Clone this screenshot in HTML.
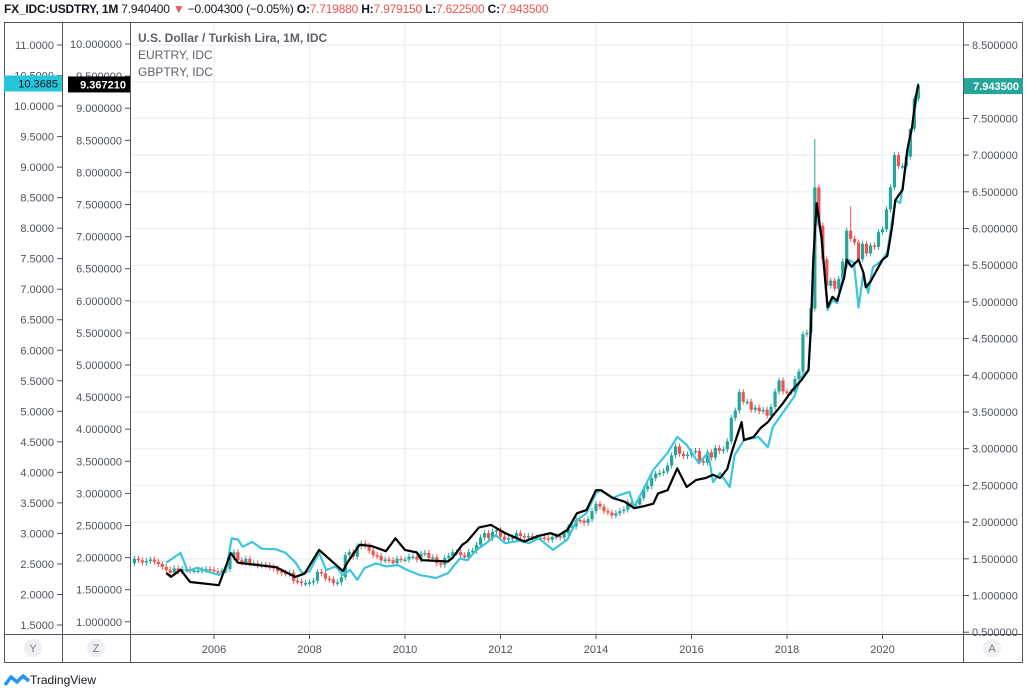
<!DOCTYPE html>
<html><head><meta charset="utf-8">
<style>
html,body{margin:0;padding:0;background:#fff;width:1027px;height:689px;overflow:hidden;font-family:"Liberation Sans",sans-serif;}
#hdr{position:absolute;left:4px;top:2px;font-size:12px;color:#131722;white-space:nowrap;letter-spacing:-0.2px}
#hdr .r{color:#ef5350}
svg{position:absolute;left:0;top:0}
</style></head><body>
<div id="hdr"><b>FX_IDC:USDTRY, 1M</b> 7.940400 <span class="r">▼</span> −0.004300 (−0.05%) <b>O:</b><span class="r">7.719880</span> <b>H:</b><span class="r">7.979150</span> <b>L:</b><span class="r">7.622500</span> <b>C:</b><span class="r">7.943500</span></div>
<svg id="c" width="1027" height="689"></svg>
<script>
// USDTRY monthly closes starting 2004-05
const usdStart = 2004 + 4/12;
const usdCloses = [
1.50,1.48,1.45,1.47,1.49,1.46,1.43,1.39,
1.35,1.31,1.37,1.33,1.36,1.36,1.34,1.34,1.34,1.35,1.36,1.35,
1.33,1.32,1.34,1.36,1.52,1.59,1.48,1.45,1.50,1.44,1.44,1.41,
1.42,1.41,1.39,1.37,1.33,1.31,1.30,1.31,1.20,1.19,1.17,1.17,
1.18,1.20,1.32,1.30,1.23,1.22,1.17,1.18,1.25,1.55,1.59,1.53,
1.67,1.71,1.68,1.61,1.55,1.54,1.48,1.49,1.48,1.44,1.50,1.49,
1.49,1.53,1.53,1.49,1.57,1.58,1.51,1.52,1.44,1.42,1.51,1.54,
1.59,1.59,1.55,1.52,1.59,1.61,1.69,1.79,1.85,1.78,1.87,1.89,
1.80,1.76,1.78,1.79,1.85,1.81,1.79,1.81,1.79,1.79,1.79,1.78,
1.76,1.80,1.81,1.79,1.85,1.93,1.94,2.03,2.02,1.99,2.04,2.15,
2.25,2.21,2.15,2.13,2.09,2.12,2.15,2.17,2.27,2.24,2.24,2.33,
2.45,2.49,2.60,2.66,2.67,2.69,2.77,2.91,3.03,2.93,2.90,2.92,
2.96,2.97,2.83,2.81,2.95,2.88,3.01,2.97,2.99,3.10,3.42,3.52,
3.77,3.64,3.64,3.53,3.56,3.51,3.53,3.45,3.57,3.78,3.93,3.78,
3.77,3.77,3.95,4.05,4.56,4.58,4.91,6.56,6.04,5.58,5.22,5.29,
5.18,5.31,5.55,5.97,5.86,5.81,5.58,5.79,5.66,5.77,5.75,5.95,
5.99,6.26,6.56,7.00,6.85,6.85,6.98,7.36,7.77,7.94];
const usdFirstOpen = 1.44;
const spikeMonths = [2018+7/12, 2019+4/12, 2020+7/12];
const spikeHighs = [7.22, 6.30, 7.28];

const eurDates = [2005.0,2005.1,2005.3,2005.5,2006.1,2006.35,2006.5,2007.3,2007.7,2007.9,2008.2,2008.7,2008.8,2009.05,2009.3,2009.6,2009.8,2010.0,2010.25,2010.35,2010.9,2011.0,2011.2,2011.3,2011.55,2011.8,2012.1,2012.5,2012.8,2013.05,2013.2,2013.4,2013.6,2013.8,2014.0,2014.1,2014.35,2014.6,2014.8,2015.0,2015.2,2015.3,2015.5,2015.7,2015.9,2016.1,2016.3,2016.45,2016.6,2016.75,2016.85,2017.05,2017.1,2017.3,2017.45,2017.6,2017.7,2017.9,2018.1,2018.3,2018.45,2018.5,2018.55,2018.62,2018.72,2018.85,2018.95,2019.05,2019.2,2019.25,2019.35,2019.5,2019.6,2019.65,2019.75,2020.0,2020.1,2020.2,2020.27,2020.42,2020.52,2020.62,2020.7,2020.75];
const eurValues = [1.76,1.70,1.81,1.62,1.57,2.07,1.92,1.85,1.70,1.75,2.12,1.79,1.93,2.20,2.18,2.10,2.30,2.12,2.08,1.96,1.94,2.00,2.20,2.25,2.47,2.51,2.38,2.25,2.34,2.38,2.34,2.43,2.69,2.74,3.05,3.05,2.93,2.87,2.77,2.80,2.84,3.00,3.05,3.39,3.10,3.21,3.24,3.29,3.24,3.38,3.66,4.11,3.83,3.88,4.02,4.11,4.21,4.39,4.60,4.76,4.92,5.59,6.64,7.52,7.00,5.90,6.06,6.00,6.37,6.64,6.53,6.64,6.44,6.21,6.30,6.64,6.70,7.15,7.57,7.73,8.35,8.71,9.18,9.37];

const gbpDates = [2005.0,2005.3,2005.45,2005.65,2005.85,2006.1,2006.25,2006.37,2006.5,2006.6,2006.8,2007.0,2007.3,2007.5,2007.7,2007.85,2008.0,2008.2,2008.35,2008.55,2008.7,2008.85,2009.0,2009.15,2009.4,2009.6,2009.85,2010.05,2010.3,2010.65,2010.9,2011.15,2011.3,2011.5,2011.7,2011.9,2012.1,2012.4,2012.6,2012.8,2013.1,2013.4,2013.6,2013.8,2014.0,2014.1,2014.35,2014.5,2014.7,2014.8,2014.95,2015.2,2015.5,2015.7,2015.9,2016.15,2016.35,2016.45,2016.6,2016.8,2016.9,2017.1,2017.4,2017.6,2017.7,2017.95,2018.15,2018.3,2018.45,2018.5,2018.55,2018.62,2018.72,2018.85,2018.95,2019.05,2019.2,2019.3,2019.4,2019.5,2019.6,2019.7,2019.8,2020.0,2020.1,2020.2,2020.27,2020.37,2020.47,2020.62,2020.7,2020.75];
const gbpValues = [2.52,2.68,2.38,2.44,2.38,2.32,2.38,2.92,2.90,2.78,2.86,2.75,2.74,2.68,2.53,2.35,2.38,2.68,2.40,2.46,2.32,2.40,2.24,2.43,2.51,2.46,2.48,2.40,2.32,2.27,2.35,2.59,2.56,2.73,2.84,2.97,2.84,2.88,2.84,2.92,2.73,2.90,3.22,3.33,3.66,3.71,3.58,3.63,3.68,3.43,3.66,4.04,4.32,4.58,4.45,4.15,4.32,3.84,3.99,3.76,4.28,4.53,4.58,4.41,4.74,5.02,5.24,5.56,5.68,6.38,7.48,8.30,7.85,6.66,6.82,6.77,7.27,7.48,7.43,6.70,7.27,6.94,7.36,7.48,7.61,8.13,8.46,8.41,8.95,9.66,10.05,10.37];

const rightTicks = [8.5,8.0,7.5,7.0,6.5,6.0,5.5,5.0,4.5,4.0,3.5,3.0,2.5,2.0,1.5,1.0,0.5];
const zTicks = [10,9.5,9,8.5,8,7.5,7,6.5,6,5.5,5,4.5,4,3.5,3,2.5,2,1.5,1];
const yTicks = [11,10.5,10,9.5,9,8.5,8,7.5,7,6.5,6,5.5,5,4.5,4,3.5,3,2.5,2,1.5];
const yearTicks = [2006,2008,2010,2012,2014,2016,2018,2020];

const PL=130, PR=963, PT=22, PB=634;
const xT = t => 214 + (t-2006)*47.75;
const yR = v => 45 + (8.5-v)*73.4;
const yZ = v => 44 + (10-v)*64.2;
const yY = v => 45 + (11-v)*61.05;

const svg = document.getElementById('c');
const NS='http://www.w3.org/2000/svg';
function mk(tag, attrs, parent){const e=document.createElementNS(NS,tag);for(const k in attrs)e.setAttribute(k,attrs[k]);(parent||svg).appendChild(e);return e;}
function txt(x,y,s,attrs){const e=mk('text',Object.assign({x:x,y:y,'font-size':11,fill:'#4c525e','font-family':'Liberation Sans, sans-serif'},attrs||{}));e.textContent=s;return e;}

const grid = mk('g',{});


rightTicks.forEach(v=>{mk('line',{x1:PL,x2:PR,y1:yR(v),y2:yR(v),stroke:'#e9eff4','stroke-width':1.2},grid);});
yearTicks.forEach(yr=>{mk('line',{x1:xT(yr),x2:xT(yr),y1:PT,y2:PB,stroke:'#e9eff4','stroke-width':1.2},grid);});

const cg = mk('g',{});


let prev = usdFirstOpen;
usdCloses.forEach((c,i)=>{
  const t = usdStart + i/12;
  const o = prev; prev = c;
  const up = c>=o; const col = up?'#26a69a':'#ef5350';
  let hi = Math.max(o,c), lo = Math.min(o,c);
  const si = spikeMonths.findIndex(m=>Math.abs(m-t)<0.02);
  const x = xT(t);
  const yTop = si>=0 ? yR(spikeHighs[si]) : yR(hi)-3;
  const w = mk('line',{x1:x,x2:x,y1:yTop,y2:yR(lo)+3,stroke:col,'stroke-width':1},cg);
  
  
  const h = Math.max(1.5,yR(lo)-yR(hi));
  const b = mk('rect',{x:x-1.6,y:yR(hi),width:3.2,height:h,fill:col},cg);
  
  
});

function line(dates, vals, ys, col, name){
  const d = dates.map((t,i)=>(i?'L':'M')+xT(t).toFixed(1)+' '+ys(vals[i]).toFixed(1)).join(' ');
  const p = mk('path',{d:d,fill:'none',stroke:col,'stroke-width':2.2,'stroke-linejoin':'round'});
  
  
}
line(gbpDates,gbpValues,yY,'#3cc6dc','gbptry-line');
line(eurDates,eurValues,yZ,'#000000','eurtry-line');

const fr = mk('g',{});


mk('rect',{x:4.5,y:22.5,width:1018,height:640,fill:'none',stroke:'#50535e','stroke-width':1},fr);
[62.5,130.5,963.5].forEach(x=>mk('line',{x1:x,x2:x,y1:22,y2:663,stroke:'#50535e','stroke-width':1},fr));
mk('line',{x1:4,x2:1023,y1:634.5,y2:634.5,stroke:'#50535e','stroke-width':1},fr);

const ay = mk('g',{});  
yTicks.forEach(v=>{const y=yY(v);mk('line',{x1:57,x2:62,y1:y,y2:y,stroke:'#50535e'},ay);txt(54,y+4,v.toFixed(4),{'text-anchor':'end'});});
const az = mk('g',{});  
zTicks.forEach(v=>{const y=yZ(v);mk('line',{x1:125,x2:130,y1:y,y2:y,stroke:'#50535e'},az);txt(122,y+4,v.toFixed(6),{'text-anchor':'end'});});
const ar = mk('g',{});  
rightTicks.forEach(v=>{const y=yR(v);mk('line',{x1:964,x2:969,y1:y,y2:y,stroke:'#50535e'},ar);txt(972,y+4,v.toFixed(6),{});});
const ax = mk('g',{});  
yearTicks.forEach(yr=>{const x=xT(yr);mk('line',{x1:x,x2:x,y1:635,y2:639,stroke:'#50535e'},ax);txt(x,653,String(yr),{'text-anchor':'middle'});});

function plabel(x,y,w,bg,s,name,bold){
  const g=mk('g',{});  
  mk('rect',{x:x,y:y-8,width:w,height:16,fill:bg},g);
  g.appendChild(txt(x+w-4,y+4,s,{'text-anchor':'end',fill:bold?'#fff':'#131722','font-weight':bold?'bold':'normal'}));
}
plabel(4,yY(gbpValues[gbpValues.length-1]),58,'#26c6da','10.3685','gbptry-price-label',false);
plabel(68,yZ(eurValues[eurValues.length-1]),62,'#000','9.367210','eurtry-price-label',true);
plabel(964,yR(usdCloses[usdCloses.length-1]),59,'#26a69a','7.943500','usdtry-price-label',true);

const lg = mk('g',{});  
lg.appendChild(txt(138,42,'U.S. Dollar / Turkish Lira, 1M, IDC',{'font-size':12,'font-weight':'bold',fill:'#5d606b'}));
lg.appendChild(txt(138,59,'EURTRY, IDC',{'font-size':12,fill:'#5d606b'}));
lg.appendChild(txt(138,76,'GBPTRY, IDC',{'font-size':12,fill:'#5d606b'}));

[['Y',33,'y-axis-button'],['Z',96,'z-axis-button'],['A',992,'auto-scale-button']].forEach(([s,x,n])=>{
  const g=mk('g',{});  
  mk('circle',{cx:x,cy:648,r:9,fill:'#eef0f3'},g);
  g.appendChild(txt(x,652,s,{'text-anchor':'middle',fill:'#787b86'}));
});
</script>
<div style="position:absolute;left:4px;top:673px;font-size:12px;color:#131722;display:flex;align-items:center">
<svg width="26" height="14" style="position:static"><path d="M1 12 L7 4 L13 9 L19 3 L25 8" fill="none" stroke="#2196f3" stroke-width="3.5" stroke-linejoin="round"/></svg>TradingView</div>
</body></html>
